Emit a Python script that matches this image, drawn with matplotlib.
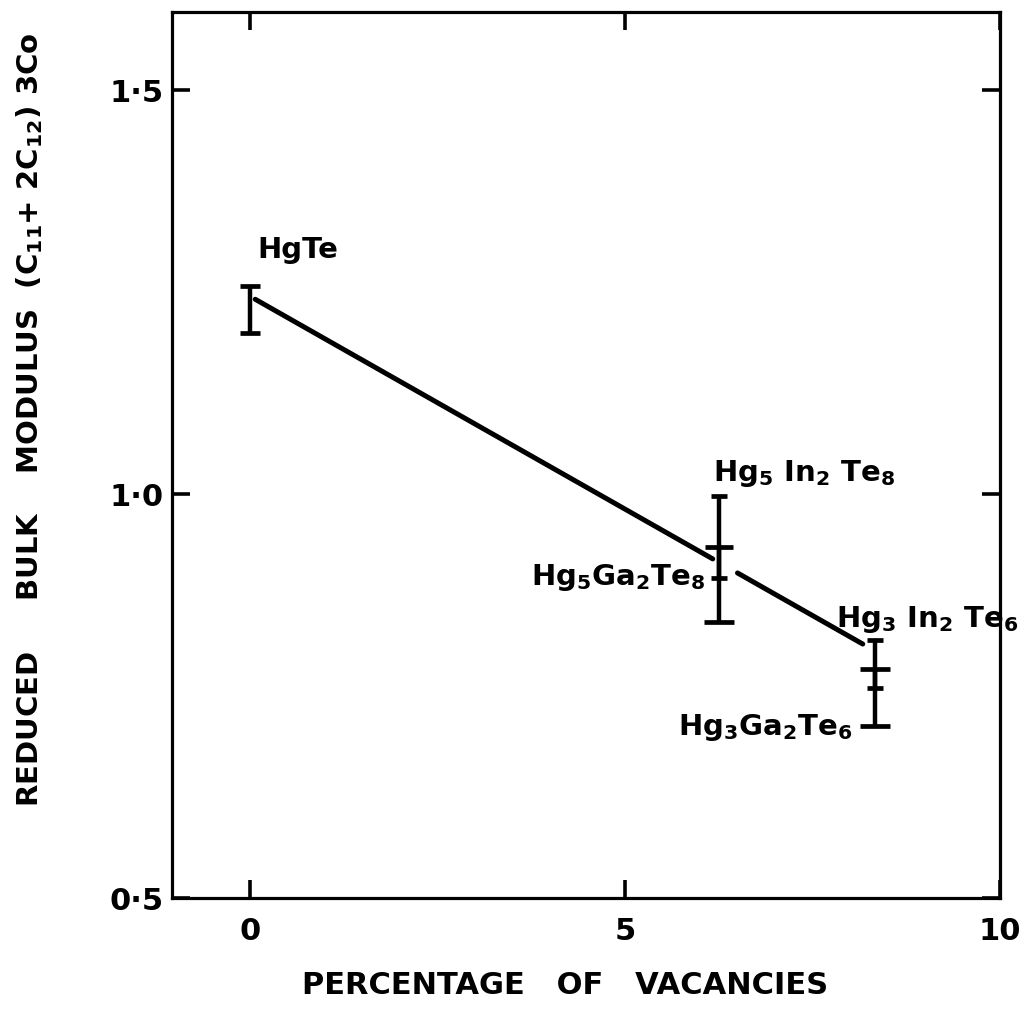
import numpy as np
import matplotlib
matplotlib.use("Agg")
import matplotlib.pyplot as plt

plt.rcParams["font.family"] = ["DejaVu Sans"]
plt.rcParams["font.weight"] = "bold"
plt.rcParams["mathtext.fontset"] = "dejavusans"
plt.rcParams["mathtext.default"] = "bf"

# Measured reduced bulk modulus versus cation-vacancy percentage
compounds = ["HgTe", "Hg5In2Te8", "Hg5Ga2Te8", "Hg3In2Te6", "Hg3Ga2Te6"]
vacancies = [0.0, 6.25, 6.25, 8.33, 8.33]
modulus = [1.228, 0.934, 0.896, 0.784, 0.760]
range_low = [1.199, 0.896, 0.842, 0.760, 0.713]
range_high = [1.258, 0.9975, 0.934, 0.819, 0.784]

# Straight-line trend drawn through the data (broken where it crosses the 6.25 % bar)
trend_intercept = 1.245
trend_slope = -0.0527
trend_segments = [(0.07, 6.17), (6.5, 8.17)]

x_ticks = [0, 5, 10]
x_tick_labels = ["0", "5", "10"]
y_ticks = [0.5, 1.0, 1.5]
y_tick_labels = ["0·5", "1·0", "1·5"]

label_texts = {
    "HgTe": r"HgTe",
    "Hg5In2Te8": r"Hg$_5$ In$_2$ Te$_8$",
    "Hg5Ga2Te8": r"Hg$_5$Ga$_2$Te$_8$",
    "Hg3In2Te6": r"Hg$_3$ In$_2$ Te$_6$",
    "Hg3Ga2Te6": r"Hg$_3$Ga$_2$Te$_6$",
}
# label anchor (x, y, horizontal alignment)
label_pos = {
    "HgTe": (0.10, 1.292, "left"),
    "Hg5In2Te8": (6.17, 1.016, "left"),
    "Hg5Ga2Te8": (6.07, 0.888, "right"),
    "Hg3In2Te6": (7.81, 0.836, "left"),
    "Hg3Ga2Te6": (8.03, 0.702, "right"),
}

# cap / centre-tick widths in points for each bar
cap_hi_w = [14, 11, 0, 11, 0]
cap_lo_w = [14, 0, 21, 0, 22]
mid_w = [0, 20, 12, 22, 12]

fig = plt.figure(figsize=(10.27, 10.11), dpi=100)
ax = fig.add_axes([172 / 1027, 1 - 898 / 1011, 828 / 1027, 886 / 1011])
ax.set_xlim(-1.04, 10.0)
ax.set_ylim(0.5, 1.597)

for side in ax.spines.values():
    side.set_linewidth(2.3)

# trend line
for x0, x1 in trend_segments:
    xs = np.array([x0, x1])
    ax.plot(xs, trend_intercept + trend_slope * xs, color="black",
            lw=3.6, solid_capstyle="round", zorder=3)

# error bars
ax.vlines(vacancies, range_low, range_high, color="black", lw=3.2, zorder=4)
for i, x in enumerate(vacancies):
    if cap_hi_w[i]:
        ax.plot(x, range_high[i], marker="_", ms=cap_hi_w[i], mew=3.4, color="black", zorder=4)
    if cap_lo_w[i]:
        ax.plot(x, range_low[i], marker="_", ms=cap_lo_w[i], mew=3.4, color="black", zorder=4)
    if mid_w[i]:
        ax.plot(x, modulus[i], marker="_", ms=mid_w[i], mew=3.4, color="black", zorder=4)

for name in compounds:
    x, y, ha = label_pos[name]
    ax.text(x, y, label_texts[name], ha=ha, va="baseline", fontsize=21,
            fontweight="bold", clip_on=False)

ax.set_xticks(x_ticks)
ax.set_xticklabels(x_tick_labels)
ax.set_yticks(y_ticks)
ax.set_yticklabels(y_tick_labels)
ax.tick_params(axis="both", direction="in", length=13, width=2.6,
               labelsize=22, top=True, right=True)
ax.tick_params(axis="x", pad=14)
ax.tick_params(axis="y", pad=6)

fig.text(30 / 1027, 1 - 420 / 1011,
         r"REDUCED     BULK    MODULUS  (C$_{11}$+ 2C$_{12}$) 3Co",
         rotation=90, ha="center", va="center", fontsize=21, fontweight="bold")
fig.text(565 / 1027, 1 - 985 / 1011, "PERCENTAGE   OF   VACANCIES",
         ha="center", va="center", fontsize=22, fontweight="bold")

fig.savefig("out.png", dpi=100, facecolor="white")
